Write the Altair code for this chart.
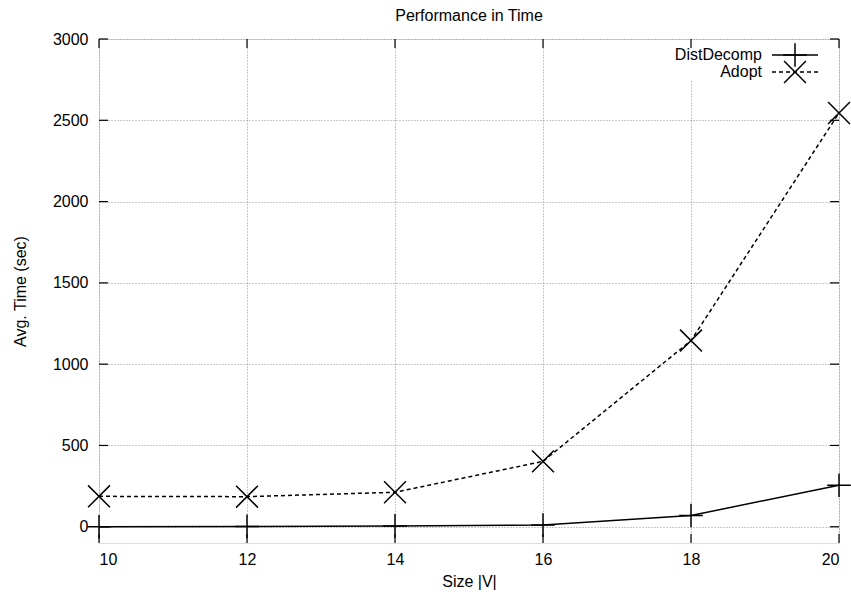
import altair as alt
import pandas as pd

sizes = [10, 12, 14, 16, 18, 20]
dist_decomp = [0, 2, 5, 10, 69, 255]
adopt = [187, 185, 212, 402, 1145, 2545]
x_ticks = [10, 12, 14, 16, 18, 20]
y_ticks = [0, 500, 1000, 1500, 2000, 2500, 3000]
series_names = ["DistDecomp", "Adopt"]

W, H = 740, 504
FONT = "Liberation Sans"
FS = 16

df = pd.DataFrame({
    "size": sizes * 2,
    "time": dist_decomp + adopt,
    "series": [series_names[0]] * len(sizes) + [series_names[1]] * len(sizes),
})
dfx = pd.DataFrame({"v": x_ticks})
dfy = pd.DataFrame({"v": y_ticks})

xscale = alt.Scale(domain=[10, 20], nice=False, zero=False)
yscale = alt.Scale(domain=[-100, 3000], nice=False, zero=False)

PLUS = "M-1,0L1,0M0,-1L0,1"
XSHAPE = "M-1,-1L1,1M-1,1L1,-1"

axis_common = dict(grid=True, domain=False, ticks=False, format="d",
                   gridDash=[1, 2], gridColor="#909090", gridWidth=1,
                   labelFontSize=FS, titleFontSize=FS, labelFont=FONT, titleFont=FONT,
                   labelColor="black", titleColor="black", titleFontWeight="normal")

grid_axes = alt.Chart(df).mark_point(opacity=0).encode(
    x=alt.X("size:Q", scale=xscale,
            axis=alt.Axis(values=x_ticks, title="Size |V|", labelPadding=8, titlePadding=6,
                          **axis_common)),
    y=alt.Y("time:Q", scale=yscale,
            axis=alt.Axis(values=y_ticks, title="Avg. Time (sec)", labelPadding=11,
                          titlePadding=24, **axis_common)),
)

# white box behind the key (masks grid like gnuplot key)
legend_bg = alt.Chart(pd.DataFrame({"a": [0]})).mark_rect(color="white").encode(
    x=alt.value(582), x2=alt.value(738), y=alt.value(2), y2=alt.value(42)
)

dd = df[df.series == "DistDecomp"]
ad = df[df.series == "Adopt"]
enc = dict(x=alt.X("size:Q", scale=xscale), y=alt.Y("time:Q", scale=yscale))

line_dd = alt.Chart(dd).mark_line(color="black", strokeWidth=1.5).encode(**enc)
pts_dd = alt.Chart(dd).mark_point(shape=PLUS, size=560, filled=False, color="black",
                                  strokeWidth=1.5, opacity=1).encode(**enc)
line_ad = alt.Chart(ad).mark_line(color="black", strokeWidth=1.5, strokeDash=[4, 3]).encode(**enc)
pts_ad = alt.Chart(ad).mark_point(shape=XSHAPE, size=480, filled=False, color="black",
                                  strokeWidth=1.5, opacity=1).encode(**enc)

# inward ticks on all four sides
tick_style = dict(color="black", strokeWidth=1.2)
yt_left = alt.Chart(dfy).mark_rule(**tick_style).encode(
    y=alt.Y("v:Q", scale=yscale), x=alt.value(0), x2=alt.value(9))
yt_right = alt.Chart(dfy).mark_rule(**tick_style).encode(
    y=alt.Y("v:Q", scale=yscale), x=alt.value(W), x2=alt.value(W - 9))
xt_bot = alt.Chart(dfx).mark_rule(**tick_style).encode(
    x=alt.X("v:Q", scale=xscale), y=alt.value(H), y2=alt.value(H - 9))
xt_top = alt.Chart(dfx).mark_rule(**tick_style).encode(
    x=alt.X("v:Q", scale=xscale), y=alt.value(0), y2=alt.value(9))

# key
leg = pd.DataFrame({"name": series_names})
txt_style = dict(align="right", baseline="middle", font=FONT, fontSize=FS, color="black")
leg_text1 = alt.Chart(leg[leg.name == "DistDecomp"]).mark_text(**txt_style).encode(
    text="name:N", x=alt.value(663), y=alt.value(16))
leg_text2 = alt.Chart(leg[leg.name == "Adopt"]).mark_text(**txt_style).encode(
    text="name:N", x=alt.value(663), y=alt.value(33))
leg_line1 = alt.Chart(leg[leg.name == "DistDecomp"]).mark_rule(color="black", strokeWidth=1.5).encode(
    x=alt.value(673), x2=alt.value(719), y=alt.value(16))
leg_line2 = alt.Chart(leg[leg.name == "Adopt"]).mark_rule(color="black", strokeWidth=1.5,
                                                          strokeDash=[4, 3]).encode(
    x=alt.value(673), x2=alt.value(719), y=alt.value(33))
leg_pt1 = alt.Chart(leg[leg.name == "DistDecomp"]).mark_point(
    shape=PLUS, size=560, filled=False, color="black", strokeWidth=1.5, opacity=1).encode(
    x=alt.value(696), y=alt.value(16))
leg_pt2 = alt.Chart(leg[leg.name == "Adopt"]).mark_point(
    shape=XSHAPE, size=480, filled=False, color="black", strokeWidth=1.5, opacity=1).encode(
    x=alt.value(696), y=alt.value(33))

chart = alt.layer(
    grid_axes, legend_bg, yt_left, yt_right, xt_bot, xt_top,
    line_ad, pts_ad, line_dd, pts_dd,
    leg_text1, leg_text2, leg_line1, leg_line2, leg_pt1, leg_pt2,
).properties(
    width=W, height=H,
    title=alt.Title("Performance in Time", font=FONT, fontSize=FS, fontWeight="normal",
                    color="black", offset=7),
    autosize=alt.AutoSizeParams(type="none"),
    padding={"left": 99, "top": 39, "right": 12, "bottom": 54},
).configure_view(stroke="black", strokeWidth=1.5).configure(background="white")

chart.save("out.html", embed_options={"renderer": "svg", "actions": False})
